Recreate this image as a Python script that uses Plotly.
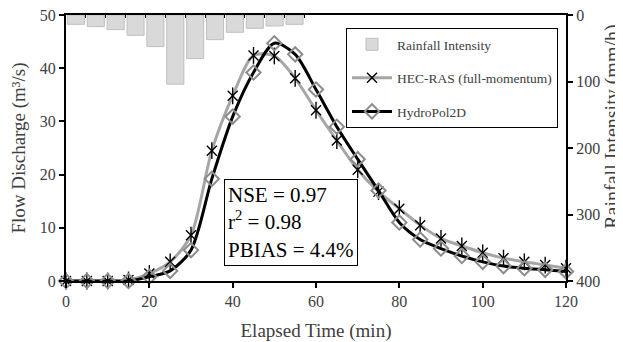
import plotly.graph_objects as go

time_min = [0, 5, 10, 15, 20, 25, 30, 35, 40, 45, 50, 55, 60, 65, 70, 75, 80, 85, 90, 95, 100, 105, 110, 115, 120]
hecras_flow = [0, 0, 0, 0.2, 1.4, 3.6, 8.6, 24.5, 34.8, 42.4, 42.3, 38.1, 32.1, 26.4, 20.9, 16.8, 13.6, 10.5, 8.0, 6.6, 5.3, 4.3, 3.6, 3.0, 2.4]
hydropol_flow = [0, 0, 0, 0, 0.8, 1.9, 5.8, 19.2, 30.9, 39.2, 44.7, 42.6, 36.0, 29.0, 22.9, 17.0, 11.0, 7.8, 6.1, 4.7, 3.6, 2.8, 2.4, 2.1, 1.8]

rain_step = [0, 1, 2, 3, 4, 5, 6, 7, 8, 9, 10, 11]
rain_intensity = [14, 17.5, 22, 30.5, 47.5, 104, 65.5, 37, 26, 20, 16.5, 14]

FONT = "Liberation Serif"
GREY_TXT = "#404040"
TITLE_FONT = dict(family=FONT, size=19, color=GREY_TXT)

fig = go.Figure()

fig.add_trace(go.Bar(
    x=rain_step, y=rain_intensity, xaxis="x2", yaxis="y2",
    name="Rainfall Intensity", width=0.86,
    marker=dict(color="#d9d9d9", line=dict(color="#bfbfbf", width=1)),
    legendgroup="a",
))
fig.add_trace(go.Scatter(
    x=time_min, y=hecras_flow, name="HEC-RAS (full-momentum)",
    mode="lines+markers", line=dict(color="#a6a6a6", width=3, shape="spline", smoothing=0.8),
    marker=dict(symbol="x-thin-open", size=10, color="black", line=dict(color="black", width=1.4)),
    cliponaxis=False, legendgroup="b",
))
fig.add_trace(go.Scatter(
    x=time_min, y=hecras_flow, name="HEC-RAS (full-momentum)", showlegend=False,
    mode="markers",
    marker=dict(symbol="line-ns-open", size=12, color="black", line=dict(color="black", width=1.4)),
    cliponaxis=False, legendgroup="b", hoverinfo="skip",
))
fig.add_trace(go.Scatter(
    x=time_min, y=hydropol_flow, name="HydroPol2D",
    mode="lines+markers", line=dict(color="black", width=3, shape="spline", smoothing=0.8),
    marker=dict(symbol="diamond-open", size=11, color="#8c8c8c", line=dict(color="#8c8c8c", width=2)),
    cliponaxis=False, legendgroup="c",
))

fig.add_annotation(
    x=0.316, y=0.056, xref="paper", yref="paper", xanchor="left", yanchor="bottom",
    text="NSE = 0.97<br>r<sup>2</sup> = 0.98<br>PBIAS = 4.4%", align="left",
    showarrow=False, bordercolor="black", borderwidth=1, bgcolor="white", borderpad=3,
    font=dict(family=FONT, size=21, color="black"),
)
# right axis title
fig.add_annotation(
    x=1.094, y=0.58, xref="paper", yref="paper", xanchor="center", yanchor="middle",
    text="Rainfall Intensity (mm/h)", textangle=-90, showarrow=False,
    font=dict(family=FONT, size=20, color=GREY_TXT),
)

axis_common = dict(showline=True, linecolor="black", linewidth=2, showgrid=False, zeroline=False,
                   automargin=False, ticklabeloverflow="allow",
                   tickfont=dict(family=FONT, size=16, color=GREY_TXT))

fig.update_layout(
    width=615, height=334,
    margin=dict(l=58, r=57, t=7, b=61),
    paper_bgcolor="white", plot_bgcolor="white",
    font=dict(family=FONT, color=GREY_TXT),
    xaxis=dict(range=[0, 120], tickvals=[0, 20, 40, 60, 80, 100, 120], ticks="outside", ticklen=5,
               tickcolor="black", tickwidth=2,
               title=dict(text="Elapsed Time (min)", font=TITLE_FONT),
               **axis_common),
    yaxis=dict(range=[0, 50], tickvals=[0, 10, 20, 30, 40, 50], ticks="outside", ticklen=5,
               tickcolor="black", tickwidth=2,
               title=dict(text="Flow Discharge (m³/s)", font=TITLE_FONT),
               **axis_common),
    xaxis2=dict(overlaying="x", side="top", range=[-0.5, 24.66], anchor="y2",
                tickvals=[-0.5 + i for i in range(13)], ticks="inside", ticklen=3, tickcolor="black",
                showticklabels=False, **axis_common),
    yaxis2=dict(overlaying="y", side="right", anchor="x", range=[400, 0],
                tickvals=[0, 100, 200, 300, 400], ticks="outside", ticklen=5, tickcolor="black", tickwidth=2,
                **axis_common),
    showlegend=True,
    legend=dict(x=0.56, y=0.951, xanchor="left", yanchor="top", bordercolor="black", borderwidth=1,
                bgcolor="white", traceorder="grouped", tracegroupgap=13, itemwidth=40,
                font=dict(family=FONT, size=13.5, color=GREY_TXT)),
)

fig.write_html("out.html")
